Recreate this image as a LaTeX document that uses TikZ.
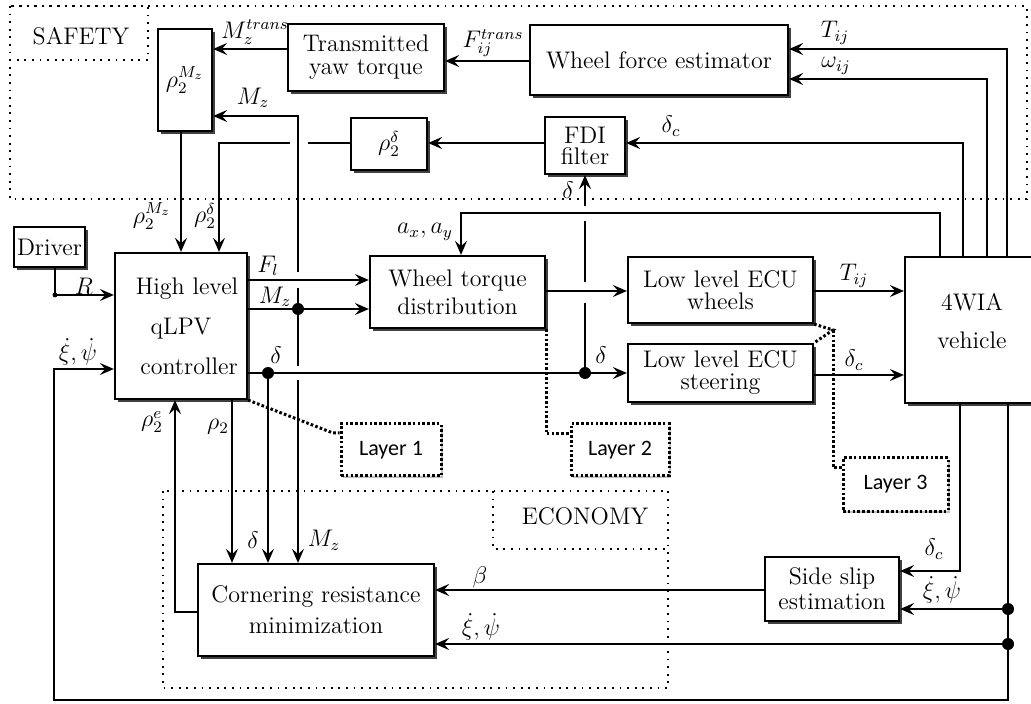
\documentclass[tikz,border=0pt]{standalone}
\usepackage{fontspec}
\newfontfamily\layerfont{Carlito}
\usetikzlibrary{arrows.meta,shadows,calc}
\tikzset{
  box/.style={draw, line width=1.1pt, fill=white, align=center, inner sep=0pt,
    drop shadow={shadow xshift=1.6pt, shadow yshift=-1.6pt, fill=black!75, opacity=1}},
  layerbox/.style={draw, line width=1.5pt, dash pattern=on 1.3pt off 1.1pt, fill=white, inner sep=0pt,
    font=\layerfont\fontsize{11}{13}\selectfont,
    drop shadow={shadow xshift=1pt, shadow yshift=-1pt, fill=black!35, opacity=0.7}},
  layerline/.style={line width=1.5pt, dash pattern=on 1.3pt off 1.1pt},
  region/.style={line width=0.9pt, dash pattern=on 0.9pt off 2.9pt},
  conn/.style={line width=0.9pt},
  arr/.style={line width=0.9pt, -{Stealth[length=7pt,width=6pt,inset=2.6pt]}},
  jdot/.style={circle, fill, inner sep=0pt, minimum size=6pt},
  lbl/.style={inner sep=0pt},
}
\begin{document}
\begin{tikzpicture}[x=0.5pt,y=-0.5pt, font=\fontsize{12}{14}\selectfont]
\useasboundingbox (0,0) rectangle (1031,704);
\clip (0,0) rectangle (1031,704);
\fill[white] (0,0) rectangle (1031,704);

% regions
\draw[region] (10,6) rectangle (1027,199);
\draw[region] (10,6) rectangle (148,60);
\node[lbl] (safety) at (81,36) {SAFETY};
\draw[region] (163,491) rectangle (668,688);
\draw[region] (493,491) rectangle (668,549);
\node[lbl] (economy) at (585,516) {ECONOMY};

% blocks
\node[box, minimum width=27pt, minimum height=51pt] (rhoMz) at (185,80) {$\rho_2^{M_z}$};
\node[box, minimum width=78pt, minimum height=33.5pt, font=\fontsize{12}{11.5}\selectfont] (trans) at (366,57.5) {Transmitted\\yaw torque};
\node[box, minimum width=129pt, minimum height=35pt] (wfe) at (659,60) {Wheel force estimator};
\node[box, minimum width=40pt, minimum height=28.5pt, font=\fontsize{12}{10.5}\selectfont] (fdi) at (585,145.5) {FDI\\filter};
\node[box, minimum width=38pt, minimum height=26pt] (rhod) at (389,144) {$\rho_2^{\delta}$};
\node[box, minimum width=35.5pt, minimum height=20pt] (driver) at (49.5,247) {Driver};
\node[box, minimum width=66pt, minimum height=73pt, font=\fontsize{12}{20}\selectfont] (hlc) at (181,326) {\hspace*{6pt}High level\\qLPV\\\hspace*{8pt}controller};
\node[box, minimum width=87.5pt, minimum height=36pt, font=\fontsize{12}{14}\selectfont] (wtd) at (457.5,292) {Wheel torque\\distribution};
\node[box, minimum width=92.5pt, minimum height=33pt, font=\fontsize{12}{11}\selectfont] (eccw) at (720.5,290) {Low level ECU\\wheels};
\node[box, minimum width=92.5pt, minimum height=29pt, font=\fontsize{12}{11}\selectfont] (eccs) at (720.5,373) {Low level ECU\\steering};
\node[box, minimum width=67pt, minimum height=73pt] (veh) at (972,330) {};
\node[lbl, align=center, font=\fontsize{12}{19}\selectfont] (vehtxt) at (972,321) {4WIA\\vehicle};
\node[box, minimum width=67pt, minimum height=32pt, font=\fontsize{12}{12.5}\selectfont] (ssl) at (832,589) {Side slip\\estimation};
\node[box, minimum width=118pt, minimum height=46pt, font=\fontsize{12}{15.5}\selectfont] (crm) at (316,610) {Cornering resistance\\minimization};

\node[layerbox, minimum width=50pt, minimum height=26pt] (layer1) at (391,450) {Layer 1};
\node[layerbox, minimum width=49pt, minimum height=26pt] (layer2) at (620,450) {Layer 2};
\node[layerbox, minimum width=52.5pt, minimum height=26.5pt] (layer3) at (895.5,484.5) {Layer 3};

% junctions
\coordinate (jMz) at (298,309);
\coordinate (jd1) at (268,373);
\coordinate (jd2) at (585,373);
\coordinate (jx1) at (1008,609);
\coordinate (jx2) at (1008,644);

% top row connectors
\draw[arr] (trans.west |- 0,49) -- (rhoMz.east |- 0,49);
\node[lbl] (lMtrans) at (255,32) {$M_z^{trans}$};
\draw[arr] (wfe.west |- 0,61) -- (trans.east |- 0,61);
\node[lbl] (lFtrans) at (493,43) {$F_{ij}^{trans}$};
\draw[arr] (veh.north -| 1007,0) -- (1007,49) -- (wfe.east |- 0,49);
\node[lbl] (lTij1) at (835,33) {$T_{ij}$};
\draw[arr] (veh.north -| 987,0) -- (987,79) -- (wfe.east |- 0,79);
\node[lbl] (lwij) at (836,66) {$\omega_{ij}$};
\draw[arr] (veh.north -| 963,0) -- (963,143) -- (fdi.east |- 0,143);
\node[lbl] (ldc1) at (671,126) {$\delta_c$};
\draw[arr] (veh.north -| 940,0) -- (940,213) -- (461,213) -- (wtd.north -| 461,0);
\node[lbl] (laxay) at (425,232) {$a_x, a_y$};
\draw[arr] (fdi.west |- 0,143) -- (rhod.east |- 0,143);
\draw[conn] (rhod.west |- 0,143) -- (308,143);
\draw[arr] (290,143) -- (219,143) -- (hlc.north -| 219,0);
\node[lbl] (lrhod) at (205,216) {$\rho_2^{\delta}$};
\draw[arr] (rhoMz.south -| 181,0) -- (hlc.north -| 181,0);
\node[lbl] (lrhoMz) at (152,216) {$\rho_2^{M_z}$};

% Mz vertical
\draw[conn] (jMz) -- (298,288);
\draw[arr] (298,272) -- (298,116) -- (rhoMz.east |- 0,116);
\node[lbl] (lMz1) at (253,98) {$M_z$};
\draw[conn] (jMz) -- (298,366);
\draw[arr] (298,380) -- (crm.north -| jMz);

% controller outputs
\draw[arr] (hlc.east |- 0,280) -- (wtd.west |- 0,280);
\node[lbl] (lFl) at (268,266) {$F_l$};
\draw[arr] (hlc.east |- jMz) -- (wtd.west |- jMz);
\node[lbl] (lMz2) at (275,297) {$M_z$};
\draw[arr] (hlc.east |- jd1) -- (eccs.west |- jd1);
\node[lbl] (ld1) at (276,355) {$\delta$};
\node[lbl] (ld2) at (601,355) {$\delta$};
\draw[arr] (jd1) -- (crm.north -| jd1);
\draw[arr] (wtd.east |- 0,291) -- (eccw.west |- 0,291);
\draw[conn] (jd2) -- (585,303);
\draw[conn] (585,282) -- (585,221);
\draw[arr] (585,206) -- (fdi.south);
\node[lbl] (ld3) at (568,190) {$\delta$};
\draw[arr] (eccw.east |- 0,291) -- (veh.west |- 0,291);
\node[lbl] (lTij2) at (854,276) {$T_{ij}$};
\draw[arr] (eccs.east |- 0,375) -- (veh.west |- 0,375);
\node[lbl] (ldc2) at (854,360) {$\delta_c$};

% driver
\draw[arr] (driver.south -| 55,0) -- (55,295) -- (hlc.west |- 0,295);
\node[lbl] (lR) at (84,286) {$R$};

% feedback
\draw[arr] (veh.south -| jx1) -- (1008,700) -- (54,700) -- (54,369) -- (hlc.west |- 0,369);
\node[lbl] (lxi1) at (78,352) {$\dot\xi,\dot\psi$};
\draw[arr] (veh.south -| 960,0) -- (960,571) -- (ssl.east |- 0,571);
\node[lbl] (ldc3) at (934,549) {$\delta_c$};
\draw[arr] (jx1) -- (ssl.east |- jx1);
\node[lbl] (lxi2) at (942,590) {$\dot\xi,\dot\psi$};
\draw[arr] (jx2) -- (crm.east |- jx2);
\node[lbl] (lxi3) at (481,627) {$\dot\xi,\dot\psi$};
\draw[arr] (ssl.west |- 0,590) -- (crm.east |- 0,590);
\node[lbl] (lbeta) at (480,577) {$\beta$};
\draw[arr] (hlc.south -| 232,0) -- (crm.north -| 232,0);
\node[lbl] (lrho2) at (218,427) {$\rho_2$};
\draw[arr] (crm.west |- 0,612) -- (175,612) -- (hlc.south -| 175,0);
\node[lbl] (lrhoe) at (152,422) {$\rho_2^{e}$};
\node[lbl] (lMz3) at (324,540) {$M_z$};
\node[lbl] (ld4) at (253,540) {$\delta$};

% dots
\foreach \j in {jMz,jd1,jd2,jx1,jx2} \node[jdot] at (\j) {};
\fill (55,295) circle (1.2pt);

% layer connectors
\draw[layerline] (hlc.south east) -- (333,433) -- (layer1.west |- 0,433);
\draw[layerline] (wtd.south east) -- (wtd.south east |- 0,434) -- (layer2.west |- 0,434);
\draw[layerline] (eccw.south east) -- (833,330) -- (eccs.north east);
\draw[layerline] (833,330) -- (833,468) -- (layer3.west |- 0,468);
\end{tikzpicture}
\end{document}
